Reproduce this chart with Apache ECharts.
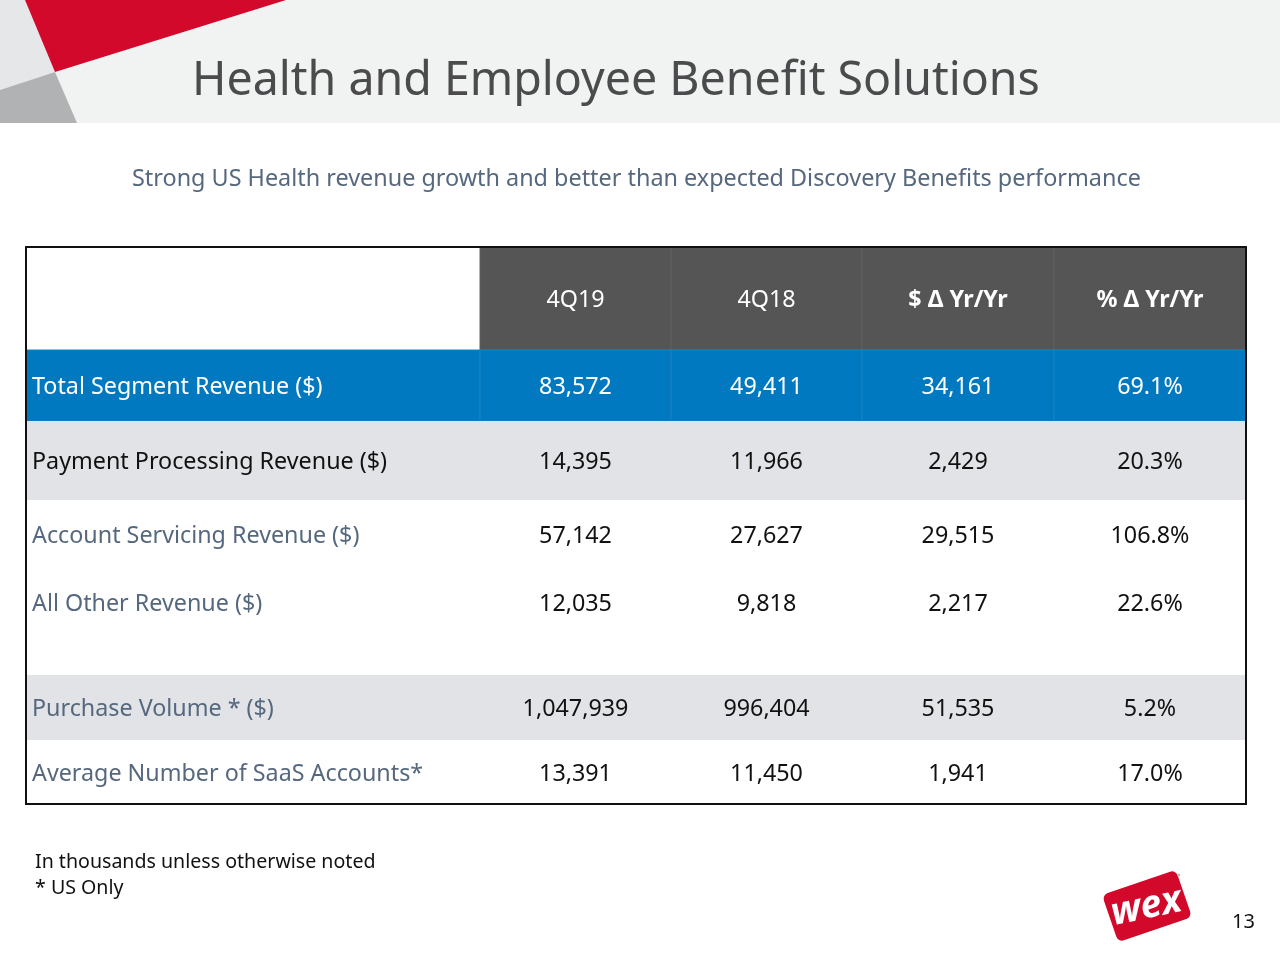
<!DOCTYPE html>
<html>
<head>
<meta charset="utf-8">
<script src="https://cdn.jsdelivr.net/npm/echarts/dist/echarts.min.js"></script>
<style>
  html, body { margin: 0; padding: 0; background: #ffffff; }
  #chart { width: 1280px; height: 960px; }
</style>
</head>
<body>
<div id="chart"></div>
<script>
// ---- data ----
const columns = ['4Q19', '4Q18', '$ Δ Yr/Yr', '% Δ Yr/Yr'];
const rowLabels = [
  'Total Segment Revenue ($)',
  'Payment Processing Revenue ($)',
  'Account Servicing Revenue ($)',
  'All Other Revenue ($)',
  '',
  'Purchase Volume * ($)',
  'Average Number of SaaS Accounts*'
];
const q4_2019 = [83572, 14395, 57142, 12035, null, 1047939, 13391];
const q4_2018 = [49411, 11966, 27627, 9818, null, 996404, 11450];
const dollarChange = [34161, 2429, 29515, 2217, null, 51535, 1941];
const pctChange = [69.1, 20.3, 106.8, 22.6, null, 5.2, 17.0];

// ---- layout / style (not data) ----
const FONT = '"Noto Sans", "Open Sans", sans-serif';
const colEdges = [0, 454, 645, 836, 1028, 1220];
const headerEdge = [0, 103];
const rowEdges = [[103, 174], [174, 253], [253, 321], [321, 389], [389, 428], [428, 493], [493, 557]];
const rowFill = ['#0079c0', '#e1e3e6', '#ffffff', '#ffffff', '#ffffff', '#e1e3e6', '#ffffff'];
const labelColor = ['#ffffff', '#111111', '#56687e', '#56687e', '#56687e', '#56687e', '#56687e'];
const valueColor = ['#ffffff', '#111111', '#111111', '#111111', '#111111', '#111111', '#111111'];
const headerBold = [false, false, true, true];

function fmtNum(v) { return v == null ? '' : v.toLocaleString('en-US'); }
function fmtPct(v) { return v == null ? '' : v.toFixed(1) + '%'; }

// build cells: [x0, y0, x1, y1, text, fill, textColor, align, bold, stroke]
const cells = [];
cells.push([colEdges[0], headerEdge[0], colEdges[1], headerEdge[1], '', '#ffffff', '#fff', 'center', false, null]);
columns.forEach((c, i) => {
  cells.push([colEdges[i + 1], headerEdge[0], colEdges[i + 2], headerEdge[1], c, '#555555', '#ffffff', 'center', headerBold[i], '#606060']);
});
rowLabels.forEach((lab, r) => {
  const [y0, y1] = rowEdges[r];
  const sep = r === 0 ? '#1683c4' : null;
  cells.push([colEdges[0], y0, colEdges[1], y1, lab, rowFill[r], labelColor[r], 'left', false, sep]);
  const vals = [fmtNum(q4_2019[r]), fmtNum(q4_2018[r]), fmtNum(dollarChange[r]), fmtPct(pctChange[r])];
  vals.forEach((v, i) => {
    cells.push([colEdges[i + 1], y0, colEdges[i + 2], y1, v, rowFill[r], valueColor[r], 'center', false, sep]);
  });
});

const chart = echarts.init(document.getElementById('chart'));
const option = {
  backgroundColor: '#ffffff',
  animation: false,
  grid: { left: 26, top: 247, width: 1220, height: 557, show: false },
  xAxis: { type: 'value', min: 0, max: 1220, show: false },
  yAxis: { type: 'value', min: 0, max: 557, inverse: true, show: false },
  graphic: [
    { type: 'rect', shape: { x: 0, y: 0, width: 1280, height: 123 }, style: { fill: '#f1f2f2' }, z: 0 },
    { type: 'polygon', shape: { points: [[0, 0], [25, 0], [55, 72], [0, 90]] }, style: { fill: '#e6e7e8' }, z: 1 },
    { type: 'polygon', shape: { points: [[25, 0], [286, 0], [55, 72]] }, style: { fill: '#d2092b' }, z: 2 },
    { type: 'polygon', shape: { points: [[0, 90], [55, 72], [77, 123], [0, 123]] }, style: { fill: '#b1b2b3' }, z: 2 },
    { type: 'text', left: 192, top: 58, style: { text: 'Health and Employee Benefit Solutions', font: '46.5px ' + FONT, fill: '#4b4b4d' }, z: 3 },
    { type: 'text', left: 132, top: 168, style: { text: 'Strong US Health revenue growth and better than expected Discovery Benefits performance', font: '23.4px ' + FONT, fill: '#56687e' } },
    { type: 'rect', shape: { x: 26, y: 247, width: 1220, height: 557 }, style: { fill: 'none', stroke: '#111111', lineWidth: 2 }, z: 100 },
    { type: 'text', left: 35, top: 852, style: { text: 'In thousands unless otherwise noted', font: '19.6px ' + FONT, fill: '#111111' } },
    { type: 'text', left: 35, top: 878, style: { text: '* US Only', font: '19.6px ' + FONT, fill: '#111111' } },
    { type: 'text', left: 1232, top: 912, style: { text: '13', font: '20px ' + FONT, fill: '#111111' } },
    {
      type: 'group', x: 1147, y: 906, rotation: 0.33,
      children: [
        { type: 'rect', shape: { x: -39, y: -25, width: 78, height: 50, r: 6 }, style: { fill: '#d2092b' } },
        { type: 'text', x: -1, y: 1, rotation: -0.12, style: { text: 'wex', font: 'italic bold 38px ' + FONT, fill: '#ffffff', align: 'center', verticalAlign: 'middle' } },
        { type: 'circle', shape: { cx: 40, cy: -19, r: 1.5 }, style: { fill: '#bbbbbb' } }
      ]
    }
  ],
  series: [{
    type: 'custom',
    coordinateSystem: 'cartesian2d',
    data: cells,
    encode: { x: [0, 2], y: [1, 3] },
    renderItem: function (params, api) {
      const d = cells[params.dataIndex];
      const p0 = api.coord([d[0], d[1]]);
      const p1 = api.coord([d[2], d[3]]);
      const w = p1[0] - p0[0], h = p1[1] - p0[1];
      const children = [{
        type: 'rect',
        shape: { x: p0[0], y: p0[1], width: w, height: h },
        style: { fill: d[5], stroke: d[9] || d[5], lineWidth: d[9] ? 1 : 0 }
      }];
      if (d[4]) {
        children.push({
          type: 'text',
          x: d[7] === 'left' ? p0[0] + 6 : p0[0] + w / 2,
          y: p0[1] + h / 2 + 2,
          style: {
            text: d[4], fill: d[6], align: d[7], verticalAlign: 'middle',
            font: (d[8] ? 'bold ' : '') + '23.3px ' + FONT
          }
        });
      }
      return { type: 'group', children: children };
    }
  }]
};
chart.setOption(option);
</script>
</body>
</html>
